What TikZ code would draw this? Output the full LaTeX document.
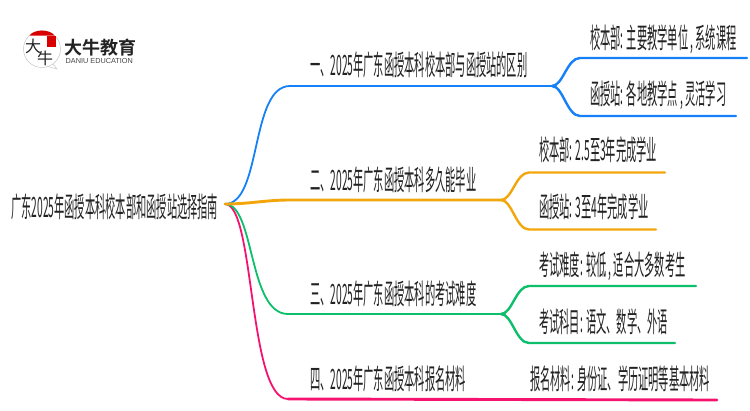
\documentclass[tikz,border=0pt]{standalone}
\usepackage{fontspec}
\usepackage{graphicx}
\setmainfont{Liberation Sans}
\newfontfamily\cjk{Noto Sans CJK SC}
\newfontfamily\cjkb{Noto Sans CJK SC}[BoldFont={Noto Sans CJK SC Bold}]
\definecolor{cblue}{HTML}{1580F8}
\definecolor{corange}{HTML}{F2A60C}
\definecolor{cgreen}{HTML}{0DBF6A}
\definecolor{cpink}{HTML}{F5136F}
\definecolor{tinkk}{HTML}{222222}
\newcommand{\narrow}[1]{\scalebox{.585}[1.6]{\cjk\fontsize{17.5}{20}\selectfont #1}}
\tikzset{
  x=1pt,y=-1pt,
  lab/.style={inner sep=0pt,anchor=base west,text=tinkk},
  main/.style={line width=2.9pt,line cap=round},
  sub/.style={line width=2.4pt,line cap=round},
  pic curve/.style={line width=1.8pt,line cap=round}
}
\begin{document}
\begin{tikzpicture}
\useasboundingbox (0,0) rectangle (750,410);
% logo
\coordinate (lc) at (42,49);
\draw[gray!45,line width=0.5pt,fill=white] (lc) circle (18.5);
\draw[gray!45,line width=0.5pt] (48,66.5) -- (57,69) -- (53,64);
\fill[red!85!black] (29.5,35.5) .. controls (34,29) and (50,29) .. (54.5,35.5) -- cycle;
\fill[red!85!black] (46.5,36) rectangle (55.5,46.5);
\node[inner sep=0pt,text=tinkk] (logoa) at (33,46) {\cjk\fontsize{16}{16}\selectfont 大};
\node[inner sep=0pt,text=tinkk] (logob) at (45,58) {\cjk\fontsize{16}{16}\selectfont 牛};
\node[inner sep=0pt,anchor=west,text=tinkk] (logot) at (64,48) {\cjkb\bfseries\fontsize{18}{18}\selectfont 大牛教育};
\node[inner sep=0pt,anchor=west,text=tinkk!85] (logoe) at (65.5,60.5) {\fontsize{7.3}{7}\selectfont DANIU EDUCATION};
% texts
\node[lab] (root) at (11,217) {\narrow{广东2025年函授本科校本部和函授站选择指南}};
\node[lab] (a) at (310,75) {\narrow{一、2025年广东函授本科校本部与函授站的区别}};
\node[lab] (b) at (310,190) {\narrow{二、2025年广东函授本科多久能毕业}};
\node[lab] (c) at (310,304) {\narrow{三、2025年广东函授本科的考试难度}};
\node[lab] (d) at (310,389) {\narrow{四、2025年广东函授本科报名材料}};
\node[lab] (a1) at (590,48.5) {\narrow{校本部: 主要教学单位 , 系统课程}};
\node[lab] (a2) at (590,104) {\narrow{函授站: 各地教学点 , 灵活学习}};
\node[lab] (b1) at (539,160) {\narrow{校本部: 2.5至3年完成学业}};
\node[lab] (b2) at (539,217) {\narrow{函授站: 3至4年完成学业}};
\node[lab] (c1) at (539,275) {\narrow{考试难度: 较低 , 适合大多数考生}};
\node[lab] (c2) at (539,332) {\narrow{考试科目: 语文、数学、外语}};
\node[lab] (d1) at (530,389) {\narrow{报名材料: 身份证、学历证明等基本材料}};
% connector anchors
\coordinate (o) at (225,204);
\coordinate (aS) at (290,86); \coordinate (aJ) at (552,86);
\coordinate (a1S) at (580,58); \coordinate (a1E) at (747,58);
\coordinate (a2S) at (580,116); \coordinate (a2E) at (736,116);
\coordinate (bS) at (290,200); \coordinate (bJ) at (501,200);
\coordinate (b1S) at (529,172.5); \coordinate (b1E) at (665,172.5);
\coordinate (b2S) at (529,229.5); \coordinate (b2E) at (656,229.5);
\coordinate (cS) at (288,314); \coordinate (cJ) at (501,314);
\coordinate (c1S) at (529,286); \coordinate (c1E) at (696,286);
\coordinate (c2S) at (529,343); \coordinate (c2E) at (675,343);
\coordinate (dS) at (288,399); \coordinate (dE) at (717,400);
% pink
\draw[pic curve,cpink] (o) .. controls (255,204) and (248,399) .. (dS);
\draw[main,cpink] (dS) -- (dE);
% green
\draw[pic curve,cgreen] (o) .. controls (255,204) and (248,314) .. (cS);
\draw[main,cgreen] (cS) -- (cJ);
\draw[sub,cgreen] (cJ) .. controls (512,314) and (516,286) .. (c1S) -- (c1E);
\draw[sub,cgreen] (cJ) .. controls (512,314) and (516,343) .. (c2S) -- (c2E);
% blue
\draw[pic curve,cblue] (o) .. controls (262,204) and (250,86) .. (aS);
\draw[main,cblue] (aS) -- (aJ);
\draw[sub,cblue] (aJ) .. controls (563,86) and (567,58) .. (a1S) -- (a1E);
\draw[sub,cblue] (aJ) .. controls (563,86) and (567,116) .. (a2S) -- (a2E);
% orange
\draw[main,corange] (o) .. controls (250,204) and (265,200) .. (bS) -- (bJ);
\draw[sub,corange] (bJ) .. controls (512,200) and (516,172.5) .. (b1S) -- (b1E);
\draw[sub,corange] (bJ) .. controls (512,200) and (516,229.5) .. (b2S) -- (b2E);
\end{tikzpicture}
\end{document}
